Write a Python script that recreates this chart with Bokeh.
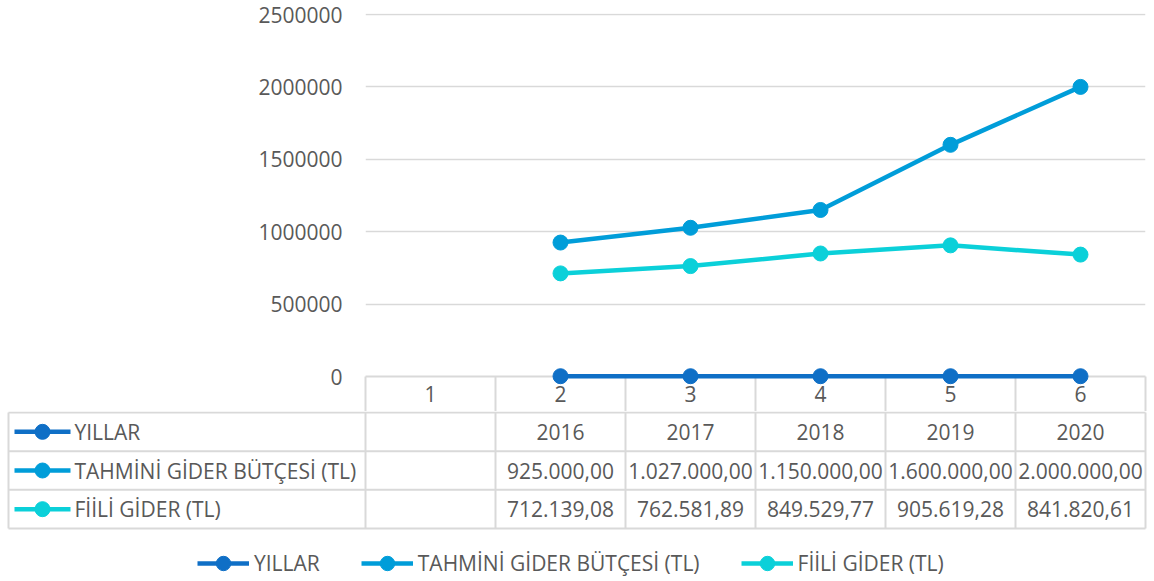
from bokeh.plotting import figure
from bokeh.layouts import column
from bokeh.models import Range1d, FixedTicker, ColumnDataSource, Legend, LegendItem
from bokeh.core.properties import value
from bokeh.embed import file_html
from bokeh.resources import INLINE

# ---------------- data ----------------
categories = [1, 2, 3, 4, 5, 6]
yillar = [None, 2016, 2017, 2018, 2019, 2020]
tahmini_gider = [None, 925000.00, 1027000.00, 1150000.00, 1600000.00, 2000000.00]
fiili_gider = [None, 712139.08, 762581.89, 849529.77, 905619.28, 841820.61]
series_names = ["YILLAR", "TAHMİNİ GİDER BÜTÇESİ (TL)", "FİİLİ GİDER (TL)"]
y_ticks = [0, 500000, 1000000, 1500000, 2000000, 2500000]
y_tick_labels = ["0", "500000", "1000000", "1500000", "2000000", "2500000"]

# ---------------- styles ----------------
colors = ["#0F6FC6", "#009DD9", "#0BD0D9"]
FONT = "Open Sans"
FS = "21px"
TXT = "#595959"
GRID = "#D9D9D9"
LW = 4.5
MS = 15


def fmt_year(v):
    return str(int(v))


def fmt_tr(v):
    s = f"{v:,.2f}"
    return s.replace(",", "_").replace(".", ",").replace("_", ".")


series_values = [yillar, tahmini_gider, fiili_gider]
series_fmt = [fmt_year, fmt_tr, fmt_tr]

# ---------------- layout (pixels) ----------------
W = 1154
COL_PX = 130          # width of one category column
FRAME_L = 365         # canvas x where the category axis starts
FRAME_R = 9
A_H = 411
B_H = 170
PLOT_PX = 362         # pixel height of the 0..max tick span
TOP_PAD = 1
HEADER_PX = 36

x_lo = categories[0] - 0.5
x_hi = categories[-1] + 0.5
y_max = y_ticks[-1]

# ---------------- chart figure ----------------
pA = figure(width=W, height=A_H, output_backend="svg", toolbar_location=None,
            x_range=Range1d(x_lo, x_hi),
            y_range=Range1d(0, y_max * (PLOT_PX + TOP_PAD) / PLOT_PX),
            min_border_left=FRAME_L, min_border_right=FRAME_R,
            min_border_top=13, min_border_bottom=A_H - 13 - PLOT_PX - TOP_PAD)
pA.frame_align = False
pA.outline_line_color = None
pA.background_fill_color = "white"
pA.border_fill_color = "white"

yax = pA.yaxis[0]
yax.ticker = FixedTicker(ticks=y_ticks)
yax.major_label_overrides = {t: l for t, l in zip(y_ticks, y_tick_labels)}
yax.axis_line_color = None
yax.major_tick_line_color = None
yax.minor_tick_line_color = None
yax.major_label_standoff = 17
yax.major_label_text_font = FONT
yax.major_label_text_font_size = FS
yax.major_label_text_color = TXT

pA.ygrid.ticker = FixedTicker(ticks=y_ticks)
pA.ygrid.grid_line_color = GRID
pA.ygrid.grid_line_width = 1.5
pA.xgrid.visible = False

# category axis doubles as the header row of the data table
xax = pA.xaxis[0]
xax.ticker = FixedTicker(ticks=categories,
                         minor_ticks=[c - 0.5 for c in categories] + [x_hi])
xax.major_tick_in = 0
xax.major_tick_out = 0
xax.major_tick_line_color = None
xax.minor_tick_in = 0
xax.minor_tick_out = HEADER_PX
xax.minor_tick_line_color = GRID
xax.minor_tick_line_width = 2
xax.axis_line_color = GRID
xax.axis_line_width = 2
xax.major_label_standoff = -27
xax.major_label_text_font = FONT
xax.major_label_text_font_size = FS
xax.major_label_text_color = TXT

for vals, col in zip(series_values, colors):
    xs = [c for c, v in zip(categories, vals) if v is not None]
    ys = [v for v in vals if v is not None]
    src = ColumnDataSource(dict(x=xs, y=ys))
    pA.line("x", "y", source=src, line_color=col, line_width=LW,
            line_join="round", level="overlay")
    pA.scatter("x", "y", source=src, size=MS, fill_color=col, line_color=col,
               level="overlay")

# ---------------- data table figure ----------------
ROW_PX = 116 / 3


def xB(cx):
    return x_lo + (cx - FRAME_L) / COL_PX


rows = list(range(len(series_names)))
y_top = rows[0] - 0.5
y_bot = rows[-1] + 0.5

pB = figure(width=W, height=B_H, output_backend="svg", toolbar_location=None,
            x_range=Range1d(xB(0), xB(W)),
            y_range=Range1d(y_top + (B_H - TOP_PAD) / ROW_PX, y_top - TOP_PAD / ROW_PX),
            x_axis_location=None, y_axis_location=None,
            min_border=0)
pB.frame_align = False
pB.outline_line_color = None
pB.grid.visible = False

# table rules
h_ys = [y_top + k for k in range(len(rows) + 1)]
pB.segment(x0=[xB(8)] * len(h_ys), x1=[x_hi] * len(h_ys), y0=h_ys, y1=h_ys,
           line_color=GRID, line_width=2)
v_xs = [xB(8)] + [c - 0.5 for c in categories] + [x_hi]
pB.segment(x0=v_xs, x1=v_xs, y0=[y_top] * len(v_xs), y1=[y_bot] * len(v_xs),
           line_color=GRID, line_width=2)

# legend keys inside the table
key_src = ColumnDataSource(dict(
    x0=[xB(14)] * len(rows), x1=[xB(70)] * len(rows), xm=[xB(42)] * len(rows),
    y=rows, color=colors))
seg_r = pB.segment(x0="x0", x1="x1", y0="y", y1="y", source=key_src,
                   line_color="color", line_width=LW)
dot_r = pB.scatter(x="xm", y="y", source=key_src, size=MS,
                   fill_color="color", line_color="color")

pB.text(x=[xB(74)] * len(rows), y=rows, text=series_names,
        text_font=value(FONT), text_font_size=value(FS), text_color=TXT,
        text_align="left", text_baseline="middle")

cell_x, cell_y, cell_t = [], [], []
for r, vals, f in zip(rows, series_values, series_fmt):
    for c, v in zip(categories, vals):
        if v is not None:
            cell_x.append(c)
            cell_y.append(r)
            cell_t.append(f(v))
pB.text(x=cell_x, y=cell_y, text=cell_t,
        text_font=value(FONT), text_font_size=value(FS), text_color=TXT,
        text_align="center", text_baseline="middle")

legend = Legend(
    items=[LegendItem(label=n, renderers=[seg_r, dot_r], index=i)
           for i, n in enumerate(series_names)],
    location=(197, 0), orientation="horizontal",
    glyph_width=52, glyph_height=36, label_standoff=5, spacing=41,
    padding=0, margin=0, border_line_alpha=0, background_fill_alpha=0,
    label_text_font=FONT, label_text_font_size=FS, label_text_color=TXT)
pB.add_layout(legend)

layout = column(pA, pB, spacing=0)

with open("out.html", "w") as fh:
    fh.write(file_html(layout, INLINE))
